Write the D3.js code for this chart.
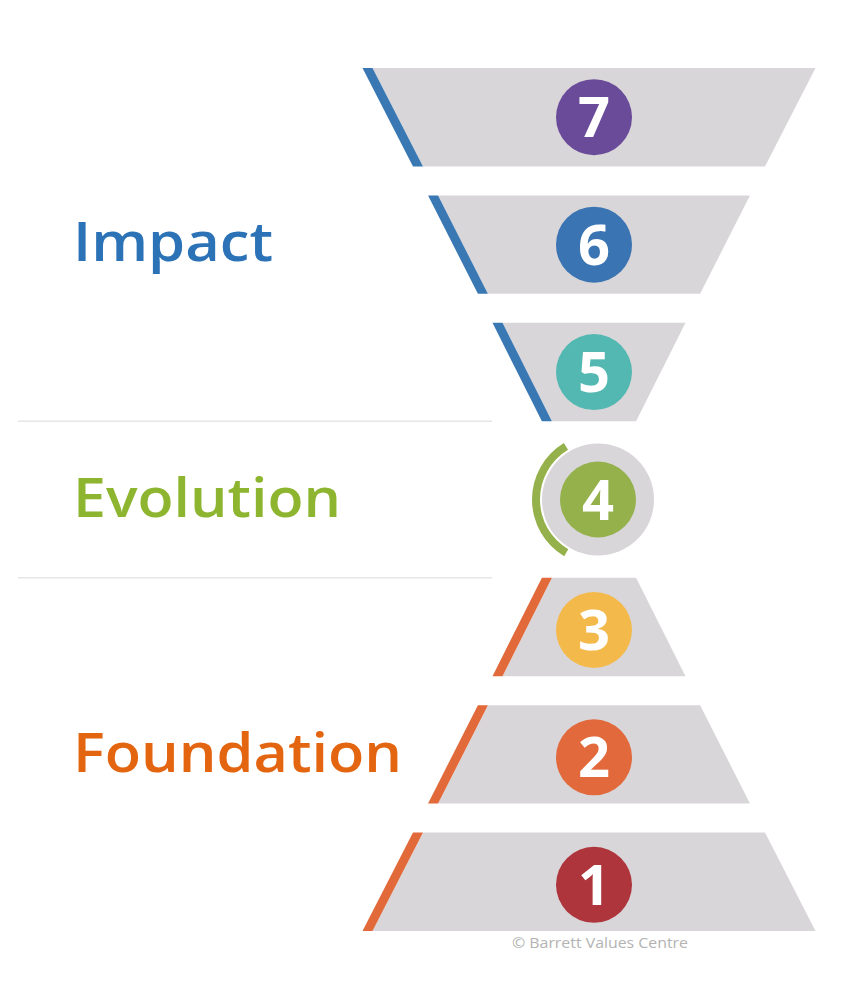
<!DOCTYPE html>
<html>
<head>
<meta charset="utf-8">
<script src="https://cdn.jsdelivr.net/npm/d3@7"></script>
<style>
  body { margin: 0; background: #fff; }
  svg { display: block; }
</style>
</head>
<body>
<div id="chart"></div>
<script>
// levels from top to bottom
var levels = [7, 6, 5, 4, 3, 2, 1];
var levelColors = ['#6a4b9a', '#3a74b2', '#52b8b1', '#94b14c', '#f4b94b', '#e2693c', '#ad353b'];
// width of the wide and narrow ends of each band (0-100 scale), level 4 is the ring
var wideWidth = [100, 70.4, 41.3, null, 41.3, 70.4, 100];
var narrowWidth = [77.2, 47.9, 19, null, 19, 47.9, 77.2];

var groups = ['Impact', 'Evolution', 'Foundation'];
var groupColors = ['#2b72b6', '#8db52f', '#e4650f'];
var credit = '\u00a9 Barrett Values Centre';

var width = 850,
  height = 1000,
  cx = 594,
  stripe = 10,
  bandFill = '#d9d6d9';

var svg = d3.select('#chart').append('svg')
  .attr('width', width)
  .attr('height', height);

var y = d3.scaleBand()
  .domain(levels)
  .range([68, 931])
  .paddingInner(29 / 127.5)
  .paddingOuter(0);

var w = d3.scaleLinear().domain([0, 100]).range([0, 443]);

var rows = levels.map(function(d, i) {
  return { level: d, color: levelColors[i], wide: wideWidth[i], narrow: narrowWidth[i], top: i < 3 };
});

// divider lines between groups
var dividers = [y(5) + y.bandwidth(), y(3)];
svg.selectAll('line.divider')
  .data(dividers).enter()
  .append('line').attr('class', 'divider')
  .attr('x1', 18).attr('x2', 492)
  .attr('y1', function(d) { return d; })
  .attr('y2', function(d) { return d; })
  .attr('stroke', '#e6e6e6')
  .attr('stroke-width', 1.5);

var bands = rows.filter(function(d) { return d.wide !== null; });

function edges(d) {
  var y0 = y(d.level), y1 = y0 + y.bandwidth();
  var wTop = d.top ? w(d.wide) : w(d.narrow);
  var wBot = d.top ? w(d.narrow) : w(d.wide);
  return { y0: y0, y1: y1, l0: cx - wTop / 2, r0: cx + wTop / 2, l1: cx - wBot / 2, r1: cx + wBot / 2 };
}

svg.selectAll('path.band')
  .data(bands).enter()
  .append('path').attr('class', 'band')
  .attr('fill', bandFill)
  .attr('d', function(d) {
    var e = edges(d);
    return 'M' + e.l0 + ',' + e.y0 + 'L' + e.r0 + ',' + e.y0 + 'L' + e.r1 + ',' + e.y1 + 'L' + e.l1 + ',' + e.y1 + 'Z';
  });

svg.selectAll('path.stripe')
  .data(bands).enter()
  .append('path').attr('class', 'stripe')
  .attr('fill', function(d) { return d.top ? '#3a78b4' : '#e1693a'; })
  .attr('d', function(d) {
    var e = edges(d);
    return 'M' + (e.l0 - stripe) + ',' + e.y0 + 'L' + e.l0 + ',' + e.y0 + 'L' + e.l1 + ',' + e.y1 + 'L' + (e.l1 - stripe) + ',' + e.y1 + 'Z';
  });

// middle level: grey disc with a partial ring on the left
var mid = rows[3];
var midY = (y(5) + y.bandwidth() + y(3)) / 2;
var midX = cx + 4;
svg.append('circle')
  .attr('cx', midX).attr('cy', midY).attr('r', 56)
  .attr('fill', bandFill);
svg.append('path')
  .attr('transform', 'translate(' + midX + ',' + midY + ')')
  .attr('fill', mid.color)
  .attr('d', d3.arc()({ innerRadius: 58, outerRadius: 66, startAngle: 3.68, endAngle: 5.74 }));

function centerY(d) {
  if (d.wide === null) return midY;
  return y(d.level) + y.bandwidth() / 2 + (d.top ? 0 : 3);
}
function centerX(d) { return d.wide === null ? midX : cx; }

svg.selectAll('circle.num')
  .data(rows).enter()
  .append('circle').attr('class', 'num')
  .attr('cx', centerX)
  .attr('cy', centerY)
  .attr('r', 38)
  .attr('fill', function(d) { return d.color; });

svg.selectAll('text.num')
  .data(rows).enter()
  .append('text').attr('class', 'num')
  .attr('x', centerX)
  .attr('y', function(d) { return centerY(d) + 20; })
  .attr('text-anchor', 'middle')
  .attr('font-family', '"Open Sans", sans-serif')
  .attr('font-weight', 700)
  .attr('font-size', 56)
  .attr('fill', '#fff')
  .text(function(d) { return d.level; });

// group labels
var labelY = [261, 517, 772];
var labelW = [200, 268, 329];
svg.selectAll('text.group')
  .data(groups).enter()
  .append('text').attr('class', 'group')
  .attr('x', 73)
  .attr('y', function(d, i) { return labelY[i]; })
  .attr('font-family', '"Open Sans", sans-serif')
  .attr('font-weight', 600)
  .attr('font-size', 54)
  .attr('textLength', function(d, i) { return labelW[i]; })
  .attr('lengthAdjust', 'spacingAndGlyphs')
  .attr('fill', function(d, i) { return groupColors[i]; })
  .text(function(d) { return d; });

svg.append('text')
  .attr('x', 512)
  .attr('y', 948)
  .attr('font-family', '"Open Sans", sans-serif')
  .attr('font-size', 14)
  .attr('textLength', 176)
  .attr('lengthAdjust', 'spacingAndGlyphs')
  .attr('fill', '#b3b3b3')
  .text(credit);
</script>
</body>
</html>
